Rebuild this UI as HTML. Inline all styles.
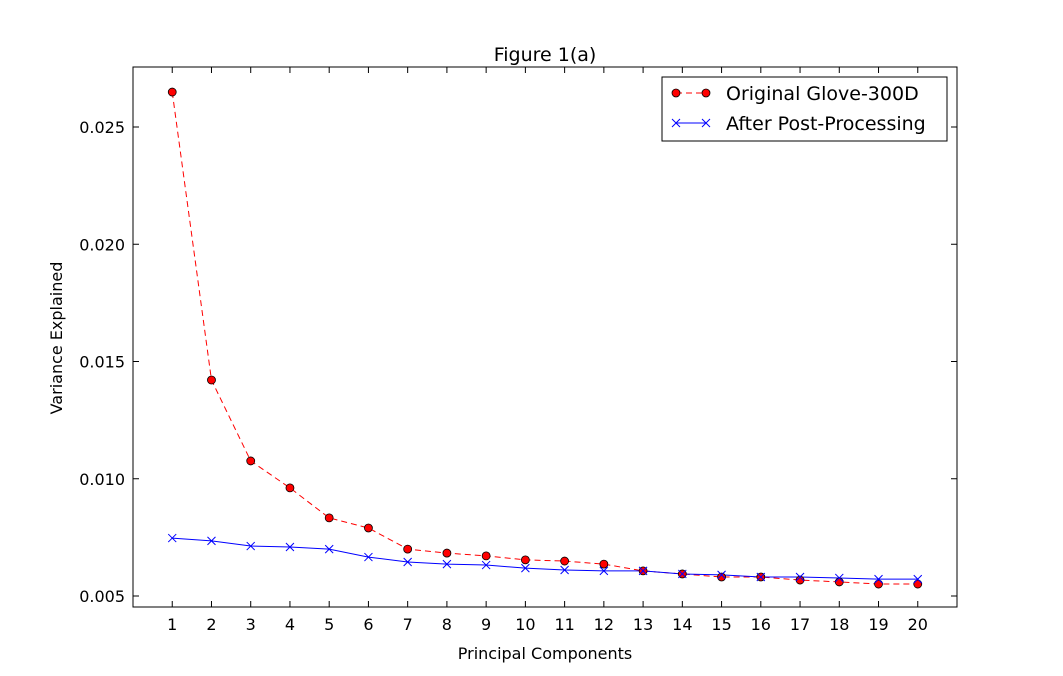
<!DOCTYPE html>
<html><head><meta charset="utf-8"><style>
body{margin:0;background:#fff;}
svg{display:block;font-family:"DejaVu Sans","Liberation Sans",sans-serif;}
</style></head><body>
<svg id="chart" width="1063" height="676">
<rect x="0" y="0" width="1063" height="676" fill="#fff"/>
<text x="545" y="61" text-anchor="middle" font-size="19">Figure 1(a)</text>
<g id="axes"></g>
<g id="series"></g>
<text x="545" y="659" text-anchor="middle" font-size="16">Principal Components</text>
<text transform="translate(62,338) rotate(-90)" text-anchor="middle" font-size="16">Variance Explained</text>
<g>
<rect x="662" y="77" width="285" height="64" fill="#fff" stroke="#000" stroke-width="1"/>
<g>
<line x1="676" y1="93" x2="706" y2="93" stroke="red" stroke-dasharray="6,4"/>
<circle cx="676" cy="93" r="4" fill="red" stroke="#000" stroke-width="0.8"/>
<circle cx="706" cy="93" r="4" fill="red" stroke="#000" stroke-width="0.8"/>
<text x="726" y="100" font-size="19">Original Glove-300D</text>
</g>
<g>
<line x1="676" y1="123" x2="706" y2="123" stroke="blue"/>
<path d="M672,119l8,8M680,119l-8,8M702,119l8,8M710,119l-8,8" stroke="blue"/>
<text x="726" y="130" font-size="19">After Post-Processing</text>
</g>
</g>
</svg>
<script>
const categories=[1,2,3,4,5,6,7,8,9,10,11,12,13,14,15,16,17,18,19,20];
const originalValues=[0.02649,0.01421,0.01076,0.00961,0.00833,0.0079,0.0070,0.00683,0.00671,0.00654,0.00649,0.00636,0.00607,0.00594,0.00581,0.00581,0.00568,0.0056,0.00551,0.00551];
const postValues=[0.00747,0.00735,0.00713,0.00709,0.0070,0.00666,0.00645,0.00636,0.00632,0.00619,0.00611,0.00607,0.00607,0.00594,0.0059,0.00581,0.00581,0.00577,0.00572,0.00572];
const yTicks=[0.005,0.010,0.015,0.020,0.025];
const yTickLabels=["0.005","0.010","0.015","0.020","0.025"];
const NS="http://www.w3.org/2000/svg";
const L=133,R=957,T=67,B=607;
const xScale=v=>L+(v-0)/(21-0)*(R-L);
const yScale=v=>596-(v-0.005)/0.005*117.25;
function mk(tag,attrs,parent){const e=document.createElementNS(NS,tag);for(const k in attrs)e.setAttribute(k,attrs[k]);parent.appendChild(e);return e;}
const axes=document.getElementById('axes'),series=document.getElementById('series');
const frame=mk('rect',{x:L,y:T,width:R-L,height:B-T,fill:'none',stroke:'#000','stroke-width':1},axes);


categories.forEach(c=>{
  const x=xScale(c);
  const t=mk('line',{x1:x,x2:x,y1:B,y2:B-6,stroke:'#000'},axes);
  
  
  mk('line',{x1:x,x2:x,y1:T,y2:T+6,stroke:'#000'},axes);
  const lb=mk('text',{x:x,y:B+23,'text-anchor':'middle','font-size':16},axes);
  lb.textContent=c;
  
  
});
yTicks.forEach((v,i)=>{
  const y=yScale(v);
  const t=mk('line',{x1:L,x2:L+6,y1:y,y2:y,stroke:'#000'},axes);
  
  
  mk('line',{x1:R,x2:R-6,y1:y,y2:y,stroke:'#000'},axes);
  const lb=mk('text',{x:L-8,y:y+6,'text-anchor':'end','font-size':16},axes);
  lb.textContent=yTickLabels[i];
  
  
});
const pts=a=>a.map((v,i)=>xScale(categories[i])+','+yScale(v)).join(' ');
const redLine=mk('polyline',{points:pts(originalValues),fill:'none',stroke:'red','stroke-dasharray':'6,4'},series);


const blueLine=mk('polyline',{points:pts(postValues),fill:'none',stroke:'blue'},series);


originalValues.forEach((v,i)=>{
  const c=mk('circle',{cx:xScale(categories[i]),cy:yScale(v),r:4,fill:'red',stroke:'#000','stroke-width':0.8},series);
  
  
});
postValues.forEach((v,i)=>{
  const x=xScale(categories[i]),y=yScale(v);
  const p=mk('path',{d:`M${x-4},${y-4}l8,8M${x+4},${y-4}l-8,8`,stroke:'blue'},series);
  
  
});
</script>
</body></html>
